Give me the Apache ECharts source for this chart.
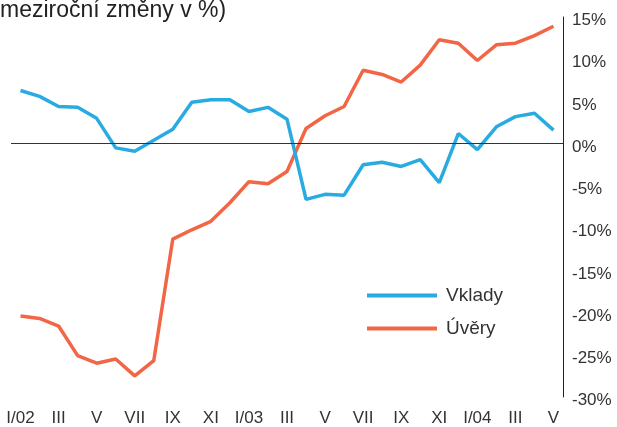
<!DOCTYPE html>
<html>
<head>
<meta charset="utf-8">
<script src="https://cdn.jsdelivr.net/npm/echarts@6/dist/echarts.min.js"></script>
<style>
  html, body { margin: 0; padding: 0; background: #fff; }
  #echart { width: 617px; height: 427px; }
</style>
</head>
<body>
<div id="echart"></div>
<script>
var months = ['I/02', 'II', 'III', 'IV', 'V', 'VI', 'VII', 'VIII', 'IX', 'X', 'XI', 'XII',
    'I/03', 'II', 'III', 'IV', 'V', 'VI', 'VII', 'VIII', 'IX', 'X', 'XI', 'XII',
    'I/04', 'II', 'III', 'IV', 'V'];
var vklady = [6.3, 5.6, 4.4, 4.3, 3.0, -0.5, -0.9, 0.4, 1.7, 4.9, 5.2, 5.2, 3.8, 4.3, 2.9,
    -6.6, -6.0, -6.1, -2.5, -2.2, -2.7, -1.9, -4.6, 1.2, -0.7, 2.0, 3.2, 3.6, 1.6];
var uvery = [-20.4, -20.7, -21.6, -25.1, -26.0, -25.5, -27.5, -25.7, -11.3, -10.2, -9.2, -7.0,
    -4.5, -4.75, -3.3, 1.8, 3.3, 4.4, 8.7, 8.2, 7.3, 9.3, 12.3, 11.9, 9.85, 11.7, 11.9, 12.8, 13.9];

var myChart = echarts.init(document.getElementById('echart'));
var font = 'Liberation Sans, Arial, sans-serif';
var option = {
    animation: false,
    title: {
        text: 'meziroční změny v %)',
        left: 0,
        top: -1,
        padding: 0,
        textStyle: { fontFamily: font, fontSize: 23, fontWeight: 'normal', color: '#222' }
    },
    legend: {
        data: ['Vklady', 'Úvěry'],
        orient: 'vertical',
        left: 367,
        top: 286,
        padding: 0,
        icon: 'rect',
        itemWidth: 70,
        itemHeight: 4,
        itemGap: 14,
        textStyle: { fontFamily: font, fontSize: 19, color: '#333', padding: [0, 0, 0, 4] }
    },
    grid: { left: 11, right: 54, top: 17, bottom: 25 },
    xAxis: {
        type: 'category',
        data: months,
        boundaryGap: true,
        axisLine: { show: false },
        axisTick: { show: false },
        axisLabel: {
            interval: 1,
            margin: 13,
            fontFamily: font,
            fontSize: 17,
            color: '#333'
        }
    },
    yAxis: {
        type: 'value',
        position: 'right',
        min: -30,
        max: 15,
        interval: 5,
        splitLine: { show: false },
        axisTick: { show: false },
        axisLine: { show: true, lineStyle: { color: '#222', width: 1 } },
        axisLabel: {
            formatter: '{p|{value}%}',
            margin: 9,
            rich: {
                p: {
                    padding: [7, 0, 0, 0],
                    fontFamily: font,
                    fontSize: 17,
                    color: '#333'
                }
            }
        }
    },
    series: [
        {
            name: 'Vklady',
            type: 'line',
            data: vklady,
            showSymbol: false,
            z: 3,
            lineStyle: { color: '#29abe2', width: 3.5 },
            itemStyle: { color: '#29abe2' },
            markLine: {
                silent: true,
                symbol: ['none', 'none'],
                label: { show: false },
                lineStyle: { color: '#333', width: 1, type: 'solid' },
                data: [{ yAxis: 0 }]
            }
        },
        {
            name: 'Úvěry',
            type: 'line',
            data: uvery,
            showSymbol: false,
            z: 2,
            lineStyle: { color: '#f26645', width: 3.5 },
            itemStyle: { color: '#f26645' }
        }
    ]
};
myChart.setOption(option);
</script>
</body>
</html>
